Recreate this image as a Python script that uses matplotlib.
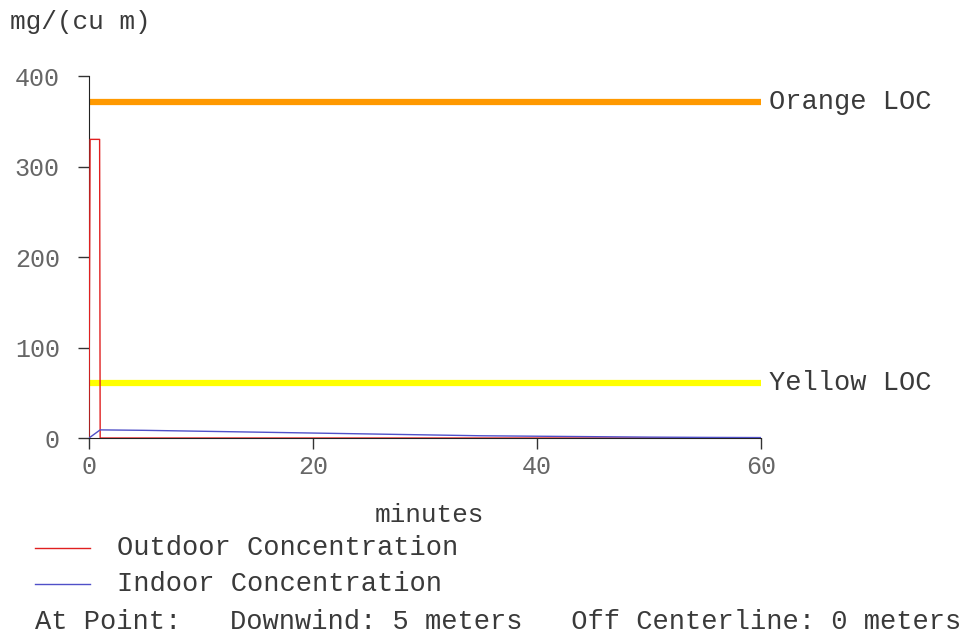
import matplotlib
matplotlib.use("Agg")
import matplotlib.pyplot as plt

# outdoor concentration (mg/cu m) vs minutes
outdoor_t = [0, 0.1, 0.95, 1.0, 60]
outdoor_c = [0, 330, 330, 0, 0]

# indoor concentration
indoor_t = [0, 1, 5, 10, 15, 20, 25, 30, 35, 40, 45, 50, 55, 60]
indoor_c = [0, 9, 8.5, 7.5, 6.5, 5.5, 4.5, 3.5, 2.5, 2, 1.5, 1, 0.7, 0.5]

# levels of concern
loc_names = ["Orange LOC", "Yellow LOC"]
loc_values = [371, 61]
loc_colors = ["#FF9900", "#FFFF00"]

x_ticks = [0, 20, 40, 60]
y_ticks = [0, 100, 200, 300, 400]

plt.rcParams['font.family'] = ['Liberation Mono', 'DejaVu Sans']
txt = "#3a3a3a"
fs = 19.5

fig = plt.figure(figsize=(9.66, 6.34), dpi=100)
ax = fig.add_axes([0.0921, 0.3091, 0.6957, 0.571])

for name, val, col in zip(loc_names, loc_values, loc_colors):
    ax.plot([0, 60], [val, val], color=col, lw=4.5, solid_capstyle='round', zorder=1)
    ax.text(60.7, val, name, va='center', ha='left', fontsize=fs, color=txt)

ax.plot(outdoor_t, outdoor_c, color="#E02020", lw=1, zorder=3)
ax.plot(indoor_t, indoor_c, color="#5050C8", lw=1, zorder=3)

ax.set_xlim(0, 60)
ax.set_ylim(0, 400)
ax.set_xticks(x_ticks)
ax.set_yticks(y_ticks)
for s in ["top", "right"]:
    ax.spines[s].set_visible(False)
ax.spines["left"].set_color("#222222")
ax.spines["bottom"].set_color("#222222")
ax.tick_params(direction='out', length=8, width=1, labelsize=18,
               labelcolor="#666666", color="#333333")
ax.tick_params(axis='x', pad=4)
ax.tick_params(axis='y', pad=13)

fig.text(10 / 966, 1 - 22 / 634, "mg/(cu m)", fontsize=18.8, color=txt, va='center', ha='left')
fig.text(429 / 966, 1 - 515 / 634, "minutes", fontsize=18.8, color=txt, va='center', ha='center')

# legend drawn by hand below the axes
fig.add_artist(plt.Line2D([35 / 966, 90 / 966], [1 - 548 / 634] * 2, color="#E02020", lw=1))
fig.text(117 / 966, 1 - 548 / 634, "Outdoor Concentration", fontsize=fs, color=txt, va='center')
fig.add_artist(plt.Line2D([35 / 966, 90 / 966], [1 - 584 / 634] * 2, color="#5050C8", lw=1))
fig.text(117 / 966, 1 - 584 / 634, "Indoor Concentration", fontsize=fs, color=txt, va='center')
fig.text(35 / 966, 1 - 622 / 634, "At Point:   Downwind: 5 meters   Off Centerline: 0 meters",
         fontsize=fs, color=txt, va='center')

fig.savefig("out.png", dpi=100, facecolor="white")
